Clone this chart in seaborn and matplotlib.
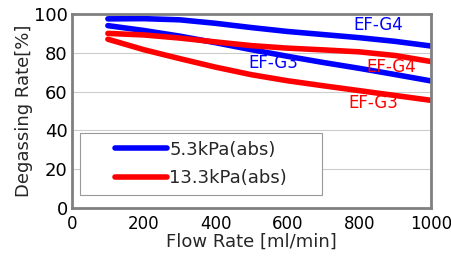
import seaborn as sns
import pandas as pd
import matplotlib.pyplot as plt
from matplotlib.lines import Line2D
from matplotlib.patches import Rectangle

# values
flow = [100, 200, 300, 400, 500, 600, 700, 800, 900, 1000]
g4_low = [97.5, 97.6, 97.0, 95.2, 93.0, 91.0, 89.4, 87.8, 85.9, 83.5]   # 5.3kPa EF-G4
g3_low = [94.0, 91.5, 88.6, 85.2, 81.6, 78.2, 75.0, 72.0, 68.8, 65.5]   # 5.3kPa EF-G3
g4_high = [90.0, 89.2, 87.6, 85.6, 83.7, 82.4, 81.5, 80.5, 78.6, 75.5]  # 13.3kPa EF-G4
g3_high = [87.0, 81.6, 77.0, 72.6, 68.7, 65.6, 63.0, 60.5, 58.0, 55.5] # 13.3kPa EF-G3

pressures = ["5.3kPa(abs)", "13.3kPa(abs)"]
colors = {"5.3kPa(abs)": "#0000ff", "13.3kPa(abs)": "#ff0000"}

frames = []
for pres, mod, vals in [(pressures[0], "EF-G4", g4_low), (pressures[0], "EF-G3", g3_low),
                        (pressures[1], "EF-G4", g4_high), (pressures[1], "EF-G3", g3_high)]:
    frames.append(pd.DataFrame({"flow": flow, "rate": vals, "pressure": pres, "module": mod}))
df = pd.concat(frames, ignore_index=True)

sns.set_style("white")
plt.rcParams['font.family'] = ['DejaVu Sans']

fig = plt.figure(figsize=(4.51, 2.67), dpi=100)
ax = fig.add_axes([72 / 451, 1 - 208 / 267, 359 / 451, 194 / 267])

sns.lineplot(data=df, x="flow", y="rate", hue="pressure", units="module", estimator=None,
             palette=colors, hue_order=pressures, linewidth=4, ax=ax, legend=False,
             solid_capstyle='round')

ax.set_xlim(0, 1000)
ax.set_ylim(0, 100)
ax.set_xticks(range(0, 1001, 200))
ax.set_yticks(range(0, 101, 20))
ax.tick_params(axis='y', labelsize=13, colors='black', length=0, pad=3)
ax.tick_params(axis='x', labelsize=12, labelcolor='black', direction='in', length=4,
               width=1, color='#999999', pad=5)
ax.yaxis.grid(True, color='#cccccc', linewidth=0.8)
for sp in ax.spines.values():
    sp.set_color('#808080')
    sp.set_linewidth(2)
ax.set_xlabel("Flow Rate [ml/min]", fontsize=13, labelpad=0)
ax.set_ylabel("Degassing Rate[%]", fontsize=13, labelpad=1)

# curve labels
ax.text(852, 94.3, "EF-G4", color='#0000ff', fontsize=12, ha='center', va='center')
ax.text(560, 74.7, "EF-G3", color='#0000ff', fontsize=12, ha='center', va='center')
ax.text(889, 72.5, "EF-G4", color='#ff0000', fontsize=12, ha='center', va='center')
ax.text(838, 54.0, "EF-G3", color='#ff0000', fontsize=12, ha='center', va='center')

# legend box with wide left margin, as in the reference
box = Rectangle((0.022, 0.067), 0.674, 0.32, transform=ax.transAxes,
                facecolor='white', edgecolor='#999999', linewidth=0.8, zorder=4)
ax.add_patch(box)
handles = [Line2D([0], [0], color=colors[p], lw=4, solid_capstyle='round') for p in pressures]
leg = ax.legend(handles, pressures, loc='center left', bbox_to_anchor=(0.12, 0.227),
                fontsize=13, frameon=False, handlelength=2.9,
                handletextpad=0.1, labelspacing=0.6, borderaxespad=0, borderpad=0)
leg.set_zorder(5)

fig.savefig("out.png", dpi=100)
